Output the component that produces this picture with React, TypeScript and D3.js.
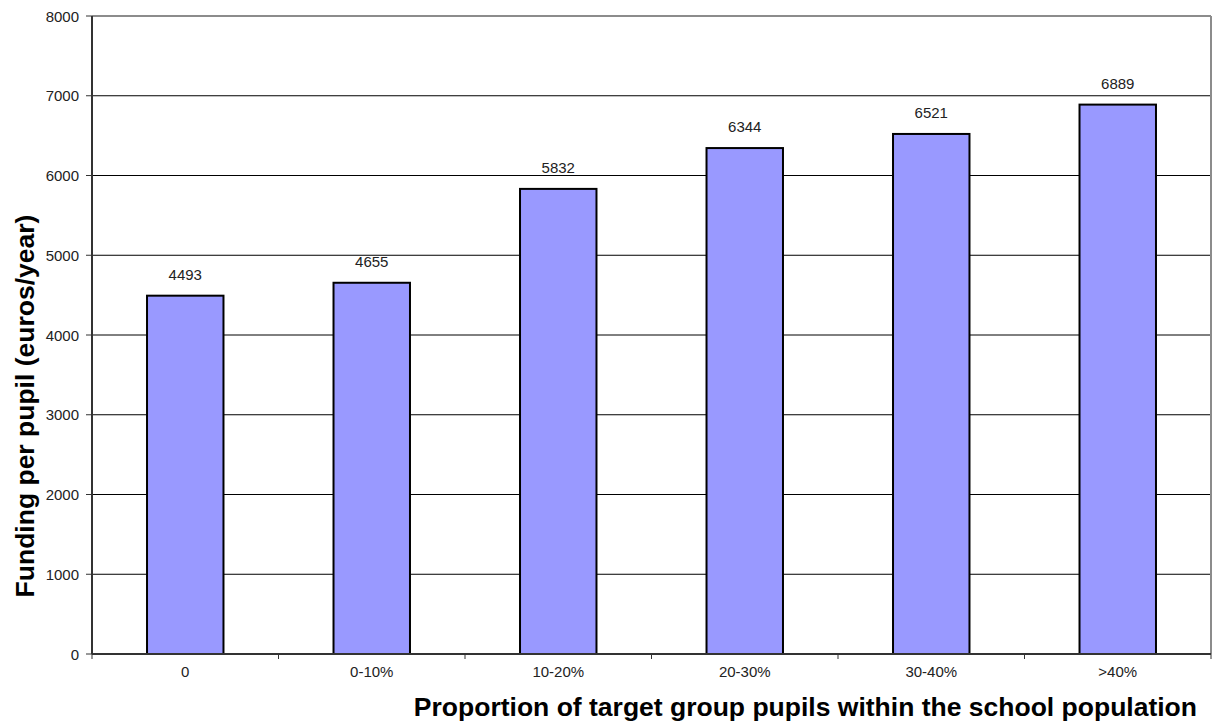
import React from 'react';
import * as d3 from 'd3';

// values
const categories = ['0', '0-10%', '10-20%', '20-30%', '30-40%', '>40%'];
const funding = [4493, 4655, 5832, 6344, 6521, 6889];
const yTicks = [0, 1000, 2000, 3000, 4000, 5000, 6000, 7000, 8000];

const W = 1213;
const H = 723;
const plot = { left: 92, right: 1211, top: 16, bottom: 654 };
const FONT = 'Arial, "Liberation Sans", Helvetica, sans-serif';

export default function App() {
  const x = d3.scaleBand<string>()
    .domain(categories)
    .range([plot.left, plot.right])
    .paddingInner(0.59)
    .paddingOuter(0.295);

  const y = d3.scaleLinear()
    .domain([0, 8000])
    .range([plot.bottom, plot.top]);

  const step = x.step();

  return (
    <div style={{ position: 'absolute', left: 0, top: 0 }}>
      <svg width={W} height={H} style={{ display: 'block', background: '#fff' }}>
        {/* gridlines */}
        {yTicks.filter(t => t > 0 && t < 8000).map(t => (
          <line key={t} x1={plot.left} x2={plot.right} y1={y(t)} y2={y(t)}
            stroke="#000" strokeWidth={1} />
        ))}

        {/* plot frame (top / right in grey) */}
        <line x1={plot.left} x2={plot.right} y1={plot.top} y2={plot.top} stroke="#8c8c8c" strokeWidth={2} />
        <line x1={plot.right} x2={plot.right} y1={plot.top} y2={plot.bottom} stroke="#8c8c8c" strokeWidth={2} />

        {/* bars */}
        {funding.map((v, i) => (
          <rect key={categories[i]}
            x={x(categories[i])}
            y={y(v)}
            width={x.bandwidth()}
            height={y(0) - y(v)}
            fill="#9999FF" stroke="#000" strokeWidth={2} />
        ))}

        {/* value labels */}
        {funding.map((v, i) => (
          <text key={'l' + i}
            x={(x(categories[i]) as number) + x.bandwidth() / 2}
            y={y(v) - 16}
            textAnchor="middle" fontFamily={FONT} fontSize={15} fill="#222">
            {v}
          </text>
        ))}

        {/* y axis */}
        <line x1={plot.left} x2={plot.left} y1={plot.top} y2={plot.bottom} stroke="#333" strokeWidth={2} />
        {yTicks.map(t => (
          <g key={'y' + t}>
            <line x1={plot.left - 6} x2={plot.left} y1={y(t)} y2={y(t)} stroke="#333" strokeWidth={1} />
            <text x={79} y={y(t) + 5.5} textAnchor="end"
              fontFamily={FONT} fontSize={15} fill="#222">{t}</text>
          </g>
        ))}

        {/* x axis */}
        <line x1={plot.left} x2={plot.right} y1={plot.bottom} y2={plot.bottom} stroke="#333" strokeWidth={2} />
        {d3.range(categories.length + 1).map(i => (
          <line key={'xt' + i}
            x1={plot.left + i * step} x2={plot.left + i * step}
            y1={plot.bottom} y2={plot.bottom + 5} stroke="#333" strokeWidth={1} />
        ))}
        {categories.map(c => (
          <text key={'xl' + c}
            x={(x(c) as number) + x.bandwidth() / 2}
            y={plot.bottom + 23}
            textAnchor="middle" fontFamily={FONT} fontSize={15} fill="#222">
            {c}
          </text>
        ))}

        {/* axis titles */}
        <text transform="translate(34,406) rotate(-90)" textAnchor="middle"
          fontFamily={FONT} fontSize={26.5} fontWeight="bold" fill="#000">
          Funding per pupil (euros/year)
        </text>
        <text x={1197} y={716} textAnchor="end"
          fontFamily={FONT} fontSize={26.5} fontWeight="bold" fill="#000">
          Proportion of target group pupils within the school population
        </text>
      </svg>
    </div>
  );
}
